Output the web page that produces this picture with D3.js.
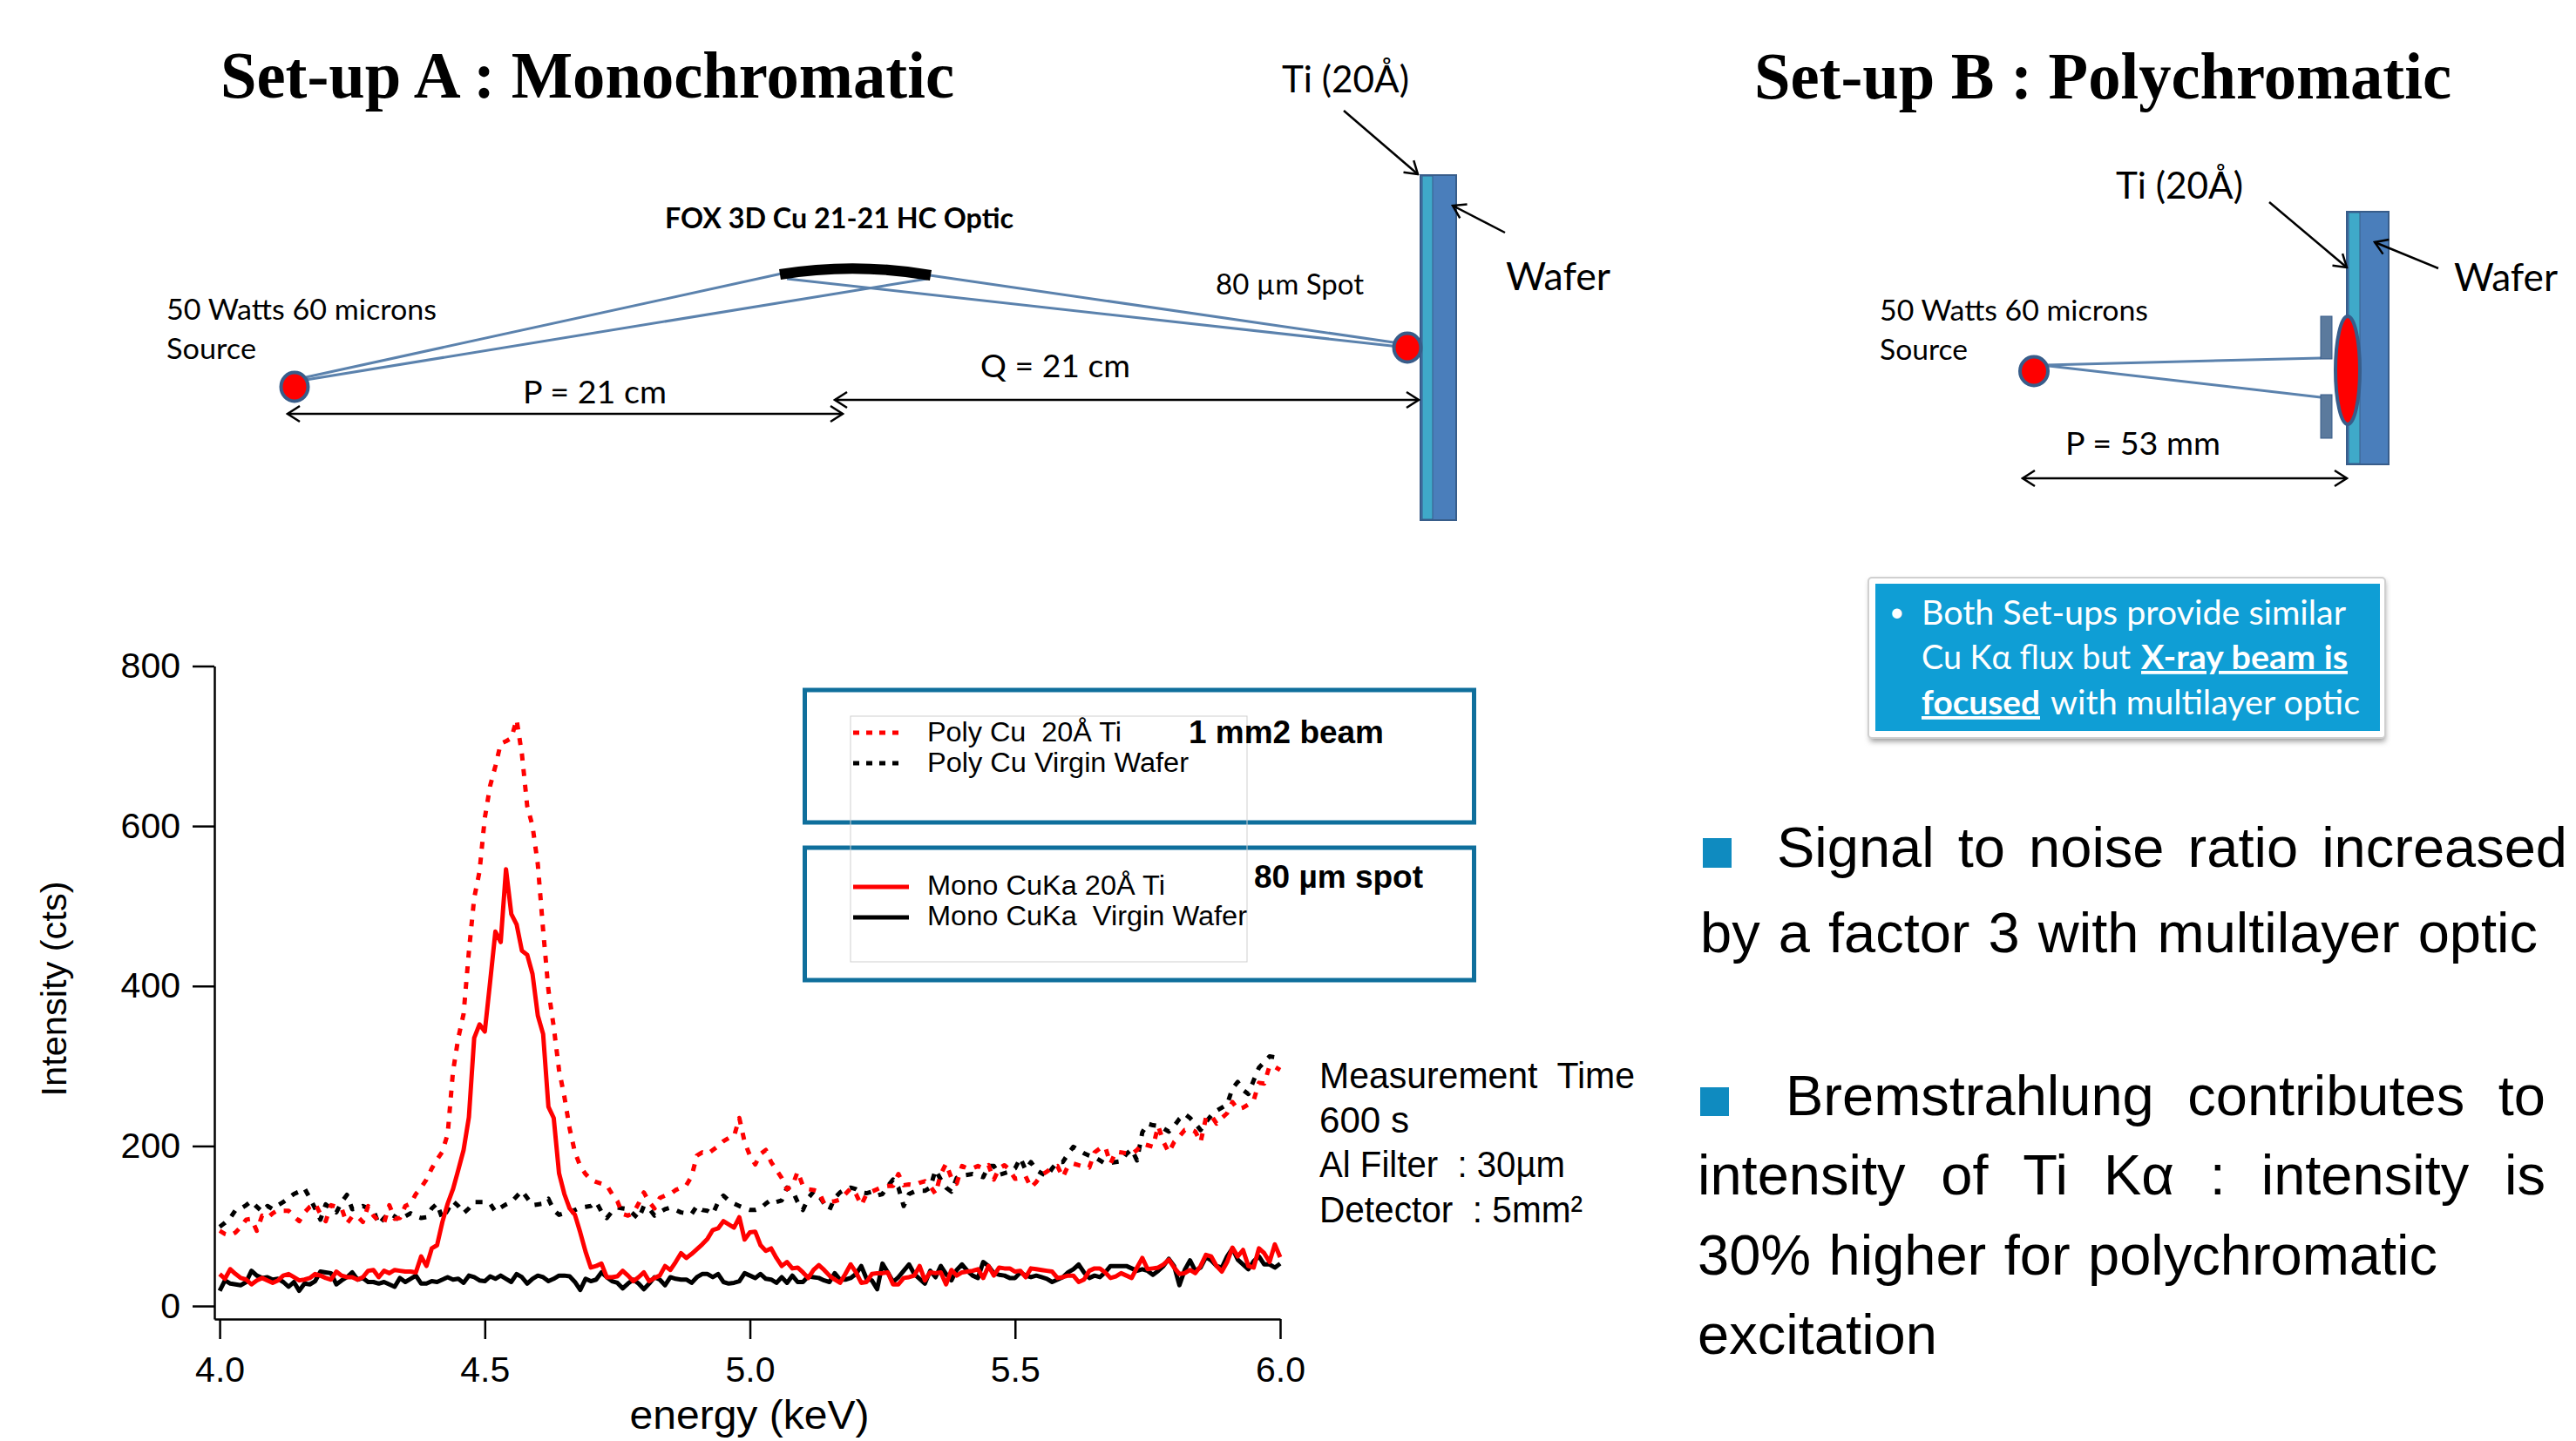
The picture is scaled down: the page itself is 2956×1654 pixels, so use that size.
<!DOCTYPE html>
<html>
<head>
<meta charset="utf-8">
<title>Set-up A and Set-up B</title>
<script src="https://cdn.jsdelivr.net/npm/d3@7/dist/d3.min.js"></script>
<style>
  html, body { margin: 0; padding: 0; background: #fff; }
  svg { display: block; }
</style>
</head>
<body>
<svg id="slide" width="2956" height="1654"></svg>
<script>
// Data. One value per 0.01 keV starting at 4.00 keV
var energyStart = 4.0;
var energyStep = 0.01;
var polyTi = [
  94,90,88,92,99,108,109,94,113,110,
  116,120,119,119,112,106,117,124,128,115,
  106,126,124,122,103,112,112,105,125,113,
  106,104,126,109,110,125,128,140,148,158,
  172,183,193,215,293,335,365,443,510,543,
  610,650,675,703,706,710,733,690,625,600,
  552,470,395,349,295,262,222,192,175,165,
  158,155,153,151,140,131,115,113,116,128,
  142,130,122,135,138,140,145,148,151,162,
  188,192,190,195,200,206,210,212,235,205,
  188,177,190,195,180,170,160,146,150,168,
  150,146,145,143,128,130,131,133,140,147,
  140,126,140,143,146,149,150,150,165,151,
  152,151,154,156,150,140,165,178,160,153,
  175,172,172,175,172,176,158,172,176,170,
  159,160,162,148,155,164,168,173,175,161,
  175,178,176,174,173,192,197,199,178,193,
  192,191,190,195,203,201,199,225,205,192,
  205,212,220,221,218,205,235,238,228,235,
  241,255,246,248,252,257,279,278,300,299,295];
var polyVirgin = [
  99,104,110,120,122,126,131,124,118,125,
  121,126,130,135,140,143,147,135,122,108,
  127,122,117,130,139,121,122,125,122,120,
  102,110,116,112,107,112,116,112,110,111,
  122,128,109,120,131,125,116,122,130,130,
  130,128,118,123,127,130,137,144,135,126,
  127,128,134,120,114,116,117,120,123,124,
  125,130,118,110,118,123,122,121,115,109,
  125,122,113,117,121,123,120,117,116,115,
  125,120,119,115,130,138,132,128,125,122,
  120,120,122,128,133,130,132,148,145,130,
  120,135,143,138,128,120,135,142,146,148,
  146,142,141,143,138,140,150,158,148,125,
  140,143,144,144,148,170,158,148,143,160,
  163,164,165,163,161,175,175,164,166,168,
  172,185,170,180,170,166,162,172,180,180,
  190,199,195,191,188,186,182,178,179,180,
  181,190,196,182,217,228,226,225,222,218,
  225,234,240,235,228,220,230,238,244,248,
  252,272,280,270,265,282,298,305,312,311];
var monoTi = [
  40,34,46,40,35,33,27,32,35,32,
  29,32,38,40,36,32,33,35,40,38,
  35,33,43,38,36,36,33,36,44,45,
  36,44,41,45,44,43,43,42,62,50,
  72,76,105,128,146,170,195,236,335,352,
  343,405,468,455,546,490,477,444,439,415,
  363,340,249,235,166,140,122,114,92,68,
  48,50,53,36,36,37,44,38,31,36,
  42,31,35,38,50,45,55,66,60,65,
  71,77,84,95,97,106,102,98,111,83,
  92,93,76,69,72,60,50,55,47,48,
  42,35,45,51,45,38,33,29,40,52,
  42,29,30,40,41,41,42,27,27,35,
  36,38,50,32,42,41,42,27,45,38,
  42,43,44,46,35,50,38,48,47,47,
  43,44,36,47,46,45,44,43,35,36,
  38,38,30,33,44,47,47,42,35,37,
  41,38,35,48,60,46,47,48,52,58,
  48,40,41,45,41,50,64,62,50,43,
  55,73,62,70,50,48,72,66,55,77,61];
var monoVirgin = [
  19,32,28,27,26,30,44,38,35,36,
  33,34,30,24,30,19,28,27,31,43,
  42,41,27,32,36,42,33,35,30,30,
  28,30,27,24,35,30,34,38,28,28,
  31,30,33,36,33,34,29,38,36,32,
  31,37,34,38,34,30,40,36,28,34,
  38,36,31,34,38,38,37,30,20,34,
  31,33,42,36,31,29,22,28,33,28,
  21,28,36,33,26,36,34,33,33,29,
  36,40,40,36,40,30,28,29,31,41,
  38,35,40,34,33,29,36,29,38,30,
  30,37,36,35,32,30,41,33,33,35,
  40,50,34,32,21,53,42,30,36,44,
  52,40,34,28,44,36,50,40,32,45,
  52,44,38,35,55,50,41,39,38,35,
  35,42,38,36,38,36,34,30,33,36,
  42,46,52,42,35,38,36,42,50,50,
  50,50,47,44,46,44,39,44,50,59,
  50,26,45,57,44,48,61,57,50,48,
  62,72,58,52,46,56,62,52,52,48,53];
var xTicks = [4.0, 4.5, 5.0, 5.5, 6.0];
var yTicks = [0, 200, 400, 600, 800];
var legendNames = ["Poly Cu  20Å Ti", "Poly Cu Virgin Wafer", "Mono CuKa 20Å Ti", "Mono CuKa  Virgin Wafer"];

var svg = d3.select("#slide");
var serif = "'Liberation Serif', serif";
var arial = "'Liberation Sans', Arial, sans-serif";
var calibri = "Lato, 'Noto Sans', sans-serif";
var narrow = "'Liberation Sans Narrow', 'Liberation Sans', sans-serif";
var waferBlue = "#4a7ebb";
var tiBlue = "#3fa9c9";
var rayBlue = "#5b82ad";
var edgeBlue = "#385d8a";

// open arrow head, used on both ends of the dimension lines
svg.append("defs").append("marker")
   .attr("id", "head")
   .attr("viewBox", "-16 -11 18 22")
   .attr("refX", 0).attr("refY", 0)
   .attr("markerWidth", 18).attr("markerHeight", 22)
   .attr("markerUnits", "userSpaceOnUse")
   .attr("orient", "auto-start-reverse")
   .append("path")
   .attr("d", "M-14,-9 L0,0 L-14,9")
   .attr("fill", "none").attr("stroke", "#000").attr("stroke-width", 2.5);

function label(str, x, y, size, family, opts) {
  opts = opts || {};
  var t = svg.append("text")
             .attr("x", x).attr("y", y)
             .attr("font-family", family)
             .attr("font-size", size)
             .attr("font-weight", opts.bold ? "bold" : "normal")
             .attr("fill", opts.fill || "#000")
             .attr("text-anchor", opts.anchor || "start")
             .attr("xml:space", "preserve")
             .style("white-space", "pre")
             .text(str);
  if (opts.underline) t.style("text-decoration", "underline");
  if (opts.width) { // squeeze to the width it has in the picture
    t.attr("textLength", opts.width).attr("lengthAdjust", "spacingAndGlyphs");
  }
  if (opts.justify) { // stretch the word gaps only
    var spaces = str.split(" ").length - 1;
    var extra = (opts.justify - t.node().getComputedTextLength())/spaces;
    t.style("word-spacing", extra + "px");
  }
  return t;
}
function line(x1, y1, x2, y2, color, width) {
  return svg.append("line")
            .attr("x1", x1).attr("y1", y1).attr("x2", x2).attr("y2", y2)
            .attr("stroke", color).attr("stroke-width", width);
}
function box(x, y, w, h, fill, stroke, strokeWidth) {
  return svg.append("rect")
            .attr("x", x).attr("y", y).attr("width", w).attr("height", h)
            .attr("fill", fill).attr("stroke", stroke || "none").attr("stroke-width", strokeWidth || 0);
}
function arrow(x1, y1, x2, y2, both) {
  var l = line(x1, y1, x2, y2, "#000", 2.5).attr("marker-end", "url(#head)");
  if (both) l.attr("marker-start", "url(#head)");
}
function redSpot(x, y, rx, ry) {
  svg.append("ellipse")
     .attr("cx", x).attr("cy", y).attr("rx", rx).attr("ry", ry)
     .attr("fill", "#f00").attr("stroke", edgeBlue).attr("stroke-width", 4);
}
function wafer(x, y, w, h, stripe) {
  box(x, y, w, h, waferBlue, edgeBlue, 2);
  box(x + 2, y + 1, stripe, h - 2, tiBlue, edgeBlue, 1);
}

////////////////////////////////////////////////////////////////////////////////
// SET-UP A
label("Set-up A : Monochromatic", 253, 112, 76, serif, {bold: true, width: 842});
label("Ti (20Å)", 1471, 106, 42, calibri, {width: 146});
label("FOX 3D Cu 21-21 HC Optic", 763, 262, 32, calibri, {bold: true, width: 400});
label("50 Watts 60 microns", 191, 367, 32, calibri, {width: 310});
label("Source", 191, 412, 32, calibri, {width: 103});
label("80 µm Spot", 1395, 338, 32, calibri, {width: 170});
label("Wafer", 1728, 333, 45, calibri, {width: 120});
label("P = 21 cm", 600, 463, 37, calibri, {width: 165});
label("Q = 21 cm", 1125, 433, 37, calibri, {width: 172});

wafer(1630, 201, 41, 396, 12);
line(351, 433, 897, 314, rayBlue, 3);
line(351, 436, 1064, 320, rayBlue, 3);
line(903, 320, 1606, 398, rayBlue, 3);
line(1067, 316, 1606, 394, rayBlue, 3);
svg.append("path") // the curved optic
   .attr("d", "M895,315 Q981,301 1068,316")
   .attr("fill", "none").attr("stroke", "#000").attr("stroke-width", 12);
redSpot(338, 444, 15.5, 16.5);
redSpot(1615, 399, 15.5, 16.5);
arrow(330, 475, 967, 475, true);
arrow(958, 459, 1628, 459, true);
arrow(1542, 127, 1627, 200);
arrow(1727, 267, 1667, 236);

////////////////////////////////////////////////////////////////////////////////
// SET-UP B
label("Set-up B : Polychromatic", 2013, 113, 76, serif, {bold: true, width: 800});
label("Ti (20Å)", 2428, 228, 42, calibri, {width: 146});
label("Wafer", 2816, 334, 45, calibri, {width: 119});
label("50 Watts 60 microns", 2157, 368, 32, calibri, {width: 308});
label("Source", 2157, 413, 32, calibri, {width: 101});
label("P = 53 mm", 2370, 522, 37, calibri, {width: 178});

wafer(2693, 243, 48, 290, 13);
line(2348, 419, 2663, 411, rayBlue, 3);
line(2351, 420, 2663, 456, rayBlue, 3);
box(2663, 363, 13, 49, "#5b7a9d", edgeBlue, 1);
box(2663, 453, 13, 50, "#5b7a9d", edgeBlue, 1);
redSpot(2694, 425, 14, 62);
redSpot(2334, 426, 16, 16.5);
arrow(2604, 232, 2693, 307);
arrow(2798, 308, 2725, 278);
arrow(2321, 549, 2693, 549, true);

// Blue note
box(2146, 667, 591, 184, "#999").style("filter", "blur(3px)");
box(2144, 663, 593, 184, "#fff", "#d0d0d0", 2).attr("rx", 4);
box(2152, 670, 579, 169, "#0f9ed5");
label("•", 2168, 713, 30, calibri, {fill: "#fff"});
label("Both Set-ups provide similar", 2205, 717, 38, calibri, {fill: "#fff", width: 487});
label("Cu Kα flux but", 2205, 768, 38, calibri, {fill: "#fff", width: 240});
label("X-ray beam is", 2457, 768, 38, calibri, {fill: "#fff", bold: true, underline: true, width: 237});
label("focused", 2205, 820, 38, calibri, {fill: "#fff", bold: true, underline: true, width: 136});
label("with multilayer optic", 2353, 820, 38, calibri, {fill: "#fff", width: 355});

////////////////////////////////////////////////////////////////////////////////
// Conclusions on the right
box(1954, 962, 33, 34, "#0f8bc0");
box(1951, 1248, 33, 33, "#0f8bc0");
label("Signal to noise ratio increased", 2039, 995, 65, narrow, {justify: 907});
label("by a factor 3 with multilayer optic", 1951, 1093, 65, narrow, {justify: 961});
label("Bremstrahlung contributes to", 2049, 1280, 65, narrow, {justify: 872});
label("intensity of Ti Kα : intensity is", 1948, 1371, 65, narrow, {justify: 973});
label("30% higher for polychromatic", 1948, 1463, 65, narrow, {justify: 849});
label("excitation", 1948, 1554, 65, narrow, {width: 275});

////////////////////////////////////////////////////////////////////////////////
// Spectrum chart
var x = d3.scaleLinear().domain([3.99, 6]).range([246, 1469]);
var y = d3.scaleLinear().domain([-16.3, 800]).range([1514, 764.5]);

var xAxis = svg.append("g")
               .attr("transform", "translate(0,1514)")
               .call(d3.axisBottom(x).tickValues(xTicks).tickFormat(d3.format(".1f")).tickSize(23).tickSizeOuter(0).tickPadding(20));
var yAxis = svg.append("g")
               .attr("transform", "translate(246,0)")
               .call(d3.axisLeft(y).tickValues(yTicks).tickSize(25).tickSizeOuter(0).tickPadding(13));
[xAxis, yAxis].forEach(function(a) {
  a.selectAll("path, line").attr("stroke", "#000").attr("stroke-width", 2.5);
  a.selectAll("text").attr("font-family", arial).attr("font-size", 41).attr("fill", "#000");
});
yAxis.selectAll("text").attr("dx", -1);

var spectrum = d3.line()
                 .x(function(d, i) { return x(energyStart + i*energyStep); })
                 .y(function(d) { return y(d); });
function drawSeries(values, color, dash) {
  svg.append("path")
     .datum(values)
     .attr("fill", "none")
     .attr("stroke", color)
     .attr("stroke-width", 5)
     .attr("stroke-linejoin", "round")
     .attr("stroke-dasharray", dash)
     .attr("d", spectrum);
}
drawSeries(polyVirgin, "#000", "8,10");
drawSeries(polyTi, "#f00", "8,10");
drawSeries(monoVirgin, "#000", null);
drawSeries(monoTi, "#f00", null);

label("energy (keV)", 860, 1640, 46, arial, {anchor: "middle", width: 275});
label("Intensity (cts)", 0, 0, 41, arial, {anchor: "middle", width: 247})
  .attr("transform", "translate(76,1135) rotate(-90)");

// Legend boxes
var frame = "#0f6f9c";
box(923.5, 792, 768, 152, "none", frame, 5);
box(923.5, 973, 768, 152, "none", frame, 5);
box(976, 822, 455, 282, "none", "#cfcfcf", 1);

var legendKeyY = [841, 876, 1018, 1053];
var legendTextY = [851, 886, 1027, 1062];
var legendWidths = [223, 300, 273, 367];
var legendColors = ["#f00", "#000", "#f00", "#000"];
legendNames.forEach(function(name, i) {
  var dashed = i < 2;
  line(979, legendKeyY[i], dashed ? 1033 : 1043, legendKeyY[i], legendColors[i], 5)
    .attr("stroke-dasharray", dashed ? "7,8" : null);
  label(name, 1064, legendTextY[i], 31, arial, {width: legendWidths[i]});
});
label("1 mm2 beam", 1364, 853, 37, arial, {bold: true, width: 224});
label("80 µm spot", 1439, 1019, 37, arial, {bold: true, width: 194});

// Measurement notes
label("Measurement  Time", 1514, 1249, 43, arial, {width: 362});
label("600 s", 1514, 1300, 43, arial, {width: 103});
label("Al Filter  : 30µm", 1514, 1351, 43, arial, {width: 282});
label("Detector  : 5mm²", 1514, 1403, 43, arial, {width: 302});
</script>
</body>
</html>
